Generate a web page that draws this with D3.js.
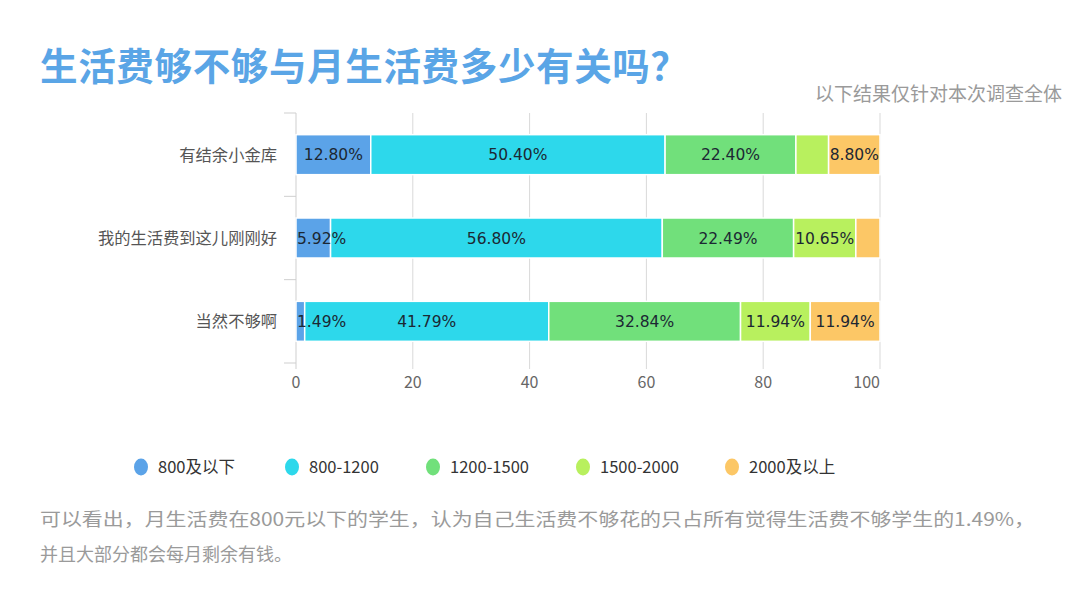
<!DOCTYPE html>
<html><head><meta charset="utf-8">
<script src="https://cdn.jsdelivr.net/npm/d3@7/dist/d3.min.js"></script>
<style>
body{margin:0;background:#fff;}
svg{display:block;}
</style></head>
<body><svg id="c" width="1080" height="590"></svg>
<script>
const categories = ["有结余小金库", "我的生活费到这儿刚刚好", "当然不够啊"];
const seriesNames = ["800及以下", "800-1200", "1200-1500", "1500-2000", "2000及以上"];
const s800 = [12.80, 5.92, 1.49];
const s800_1200 = [50.40, 56.80, 41.79];
const s1200_1500 = [22.40, 22.49, 32.84];
const s1500_2000 = [5.60, 10.65, 11.94];
const s2000 = [8.80, 4.14, 11.94];
// labels shown in the original (null = not labelled)
const labels800 = ["12.80%", "5.92%", "1.49%"];
const labels800_1200 = ["50.40%", "56.80%", "41.79%"];
const labels1200_1500 = ["22.40%", "22.49%", "32.84%"];
const labels1500_2000 = [null, "10.65%", "11.94%"];
const labels2000 = ["8.80%", null, "11.94%"];
const xTicks = [0, 20, 40, 60, 80, 100];
const colors = ["#5ba3e8", "#2dd8eb", "#71e07b", "#b8f05e", "#fcc766"];

const title = "生活费够不够与月生活费多少有关吗？";
const subtitle = "以下结果仅针对本次调查全体";
const note1 = "可以看出，月生活费在800元以下的学生，认为自己生活费不够花的只占所有觉得生活费不够学生的1.49%，";
const note2 = "并且大部分都会每月剩余有钱。";

const series = [s800, s800_1200, s1200_1500, s1500_2000, s2000];
const seriesLabels = [labels800, labels800_1200, labels1200_1500, labels1500_2000, labels2000];

const svg = d3.select("#c");
const cjk = "'Noto Sans CJK SC','Noto Sans',sans-serif";

svg.append("text").attr("x", 40).attr("y", 80)
  .attr("font-family", cjk).attr("font-weight", 700).attr("font-size", 37.5)
  .attr("fill", "#5aa5e6").attr("textLength", 648).attr("lengthAdjust", "spacing").text(title);
svg.append("text").attr("x", 1062).attr("y", 101).attr("text-anchor", "end")
  .attr("font-family", cjk).attr("font-size", 19).attr("fill", "#9a9a9a").text(subtitle);

const pL = 296, pR = 880, pT = 113, pB = 363;
const x = d3.scaleLinear().domain([0, 100]).range([pL, pR]);
const y = d3.scaleBand().domain(categories).range([pT, pB]).paddingInner(0.52).paddingOuter(0.26);

const g = svg.append("g");
// grid
g.selectAll("line.grid").data(xTicks.slice(1)).join("line")
  .attr("x1", d => x(d)).attr("x2", d => x(d)).attr("y1", pT).attr("y2", pB + 6)
  .attr("stroke", "#d9d9d9").attr("stroke-width", 1);
// y axis line and ticks
g.append("line").attr("x1", pL).attr("x2", pL).attr("y1", pT).attr("y2", pB)
  .attr("stroke", "#cfcfcf");
const bounds = [pT, ...categories.slice(1).map(c => y(c) - y.step()*y.paddingInner()/2), pB];
g.selectAll("line.yt").data(bounds).join("line")
  .attr("x1", pL - 12).attr("x2", pL).attr("y1", d => d).attr("y2", d => d)
  .attr("stroke", "#cfcfcf");
g.append("line").attr("x1", pL).attr("x2", pL).attr("y1", pB).attr("y2", pB + 6).attr("stroke", "#cfcfcf");

// x tick labels
g.selectAll("text.xt").data(xTicks).join("text")
  .attr("x", d => d === 100 ? x(d) : x(d)).attr("y", 388)
  .attr("text-anchor", d => d === 100 ? "end" : "middle")
  .attr("font-family", cjk).attr("font-size", 16).attr("fill", "#666").text(d => d);

// y labels
g.selectAll("text.yl").data(categories).join("text")
  .attr("x", 277).attr("y", d => y(d) + y.bandwidth()/2 + 6).attr("text-anchor", "end")
  .attr("font-family", cjk).attr("font-size", 16.3).attr("fill", "#555").text(d => d);

// stacked bars
const rows = categories.map((c, i) => {
  let acc = 0;
  return series.map((s, k) => { const st = acc; acc += s[i]; return {c, k, x0: st, x1: acc, label: seriesLabels[k][i]}; });
}).flat();
g.selectAll("rect.bar").data(rows).join("rect")
  .attr("x", d => x(d.x0)).attr("width", d => x(d.x1) - x(d.x0))
  .attr("y", d => y(d.c)).attr("height", y.bandwidth())
  .attr("fill", d => colors[d.k]).attr("stroke", "#fff").attr("stroke-width", 1.5);

g.selectAll("text.bl").data(rows.filter(d => d.label)).join("text")
  .attr("font-family", "'DejaVu Sans',Verdana,sans-serif").attr("font-size", 15.5)
  .attr("fill", "#1c2833").attr("text-anchor", "middle")
  .attr("y", d => y(d.c) + y.bandwidth()/2 + 5.5)
  .text(d => d.label)
  .attr("x", function(d) {
    const w = this.getComputedTextLength();
    let cx = (x(d.x0) + x(d.x1)) / 2;
    if (cx - w/2 < pL + 1) cx = pL + 1 + w/2;
    return cx;
  });

// legend
const legX = [141, 292, 433, 583, 732];
const lg = svg.append("g");
seriesNames.forEach((n, k) => {
  lg.append("ellipse").attr("cx", legX[k]).attr("cy", 467).attr("rx", 7).attr("ry", 8.5).attr("fill", colors[k]);
  lg.append("text").attr("x", legX[k] + 17).attr("y", 473)
    .attr("font-family", cjk).attr("font-size", 16.5).attr("fill", "#333").text(n);
});

// notes
svg.append("text").attr("x", 40).attr("y", 526).attr("font-family", cjk).attr("font-size", 18)
  .attr("fill", "#9a9a9a").attr("textLength", 995).attr("lengthAdjust", "spacingAndGlyphs").text(note1);
svg.append("text").attr("x", 40).attr("y", 561).attr("font-family", cjk).attr("font-size", 18)
  .attr("fill", "#9a9a9a").text(note2);
</script></body></html>
